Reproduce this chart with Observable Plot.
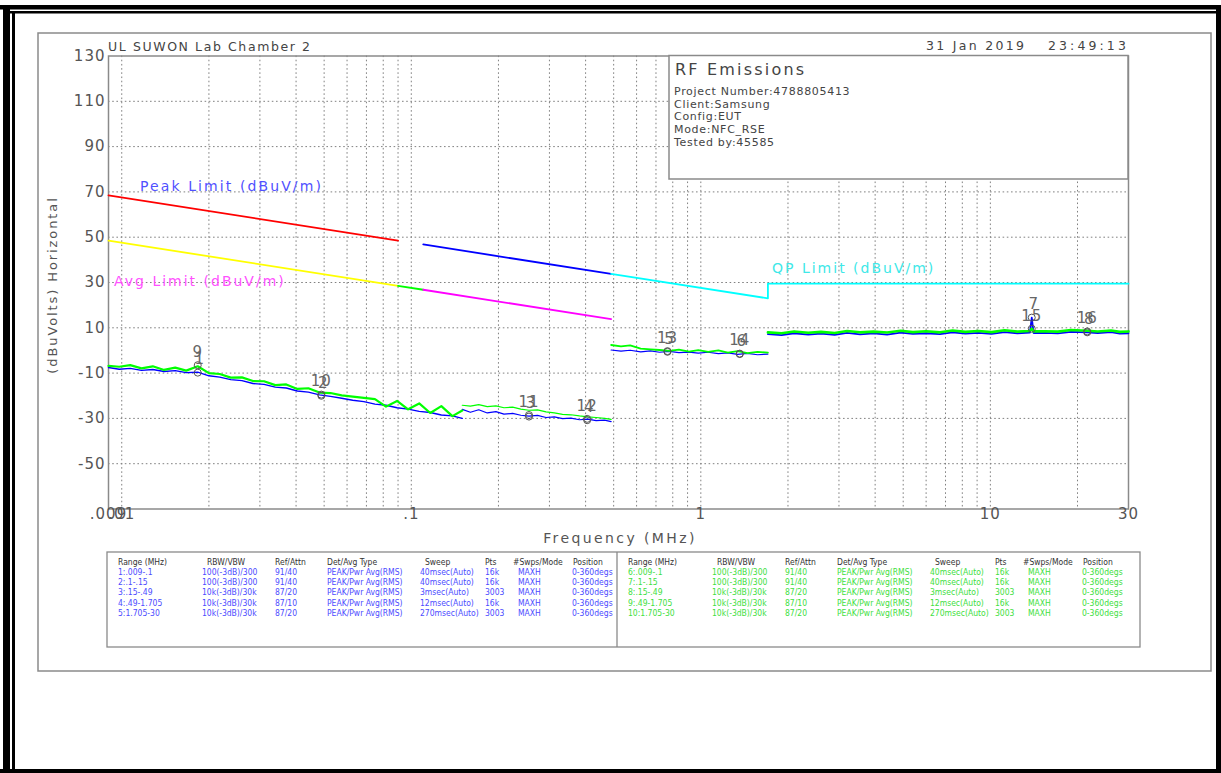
<!DOCTYPE html>
<html><head><meta charset="utf-8">
<script src="https://cdn.jsdelivr.net/npm/d3@7"></script>
<script src="https://cdn.jsdelivr.net/npm/@observablehq/plot@0.6"></script>
<style>
body{margin:0;background:#fff;}
#wrap{position:relative;width:1221px;height:773px;overflow:hidden;background:#fff;}
#wrap svg{position:absolute;left:0;top:0;}
</style></head><body><div id="wrap"></div>
<script>
// ---------- axis ticks / grid ----------
const yTicks = [130,110,90,70,50,30,10,-10,-30,-50];
const yGrid = [110,90,70,50,30,10,-10,-30,-50];
const xTickVals = [0.009,0.01,0.1,1,10,30];
const xTickText = [".009",".01",".1","1","10","30"];
const xGrid = [0.01,0.02,0.03,0.04,0.05,0.06,0.07,0.08,0.09,
  0.1,0.2,0.3,0.4,0.5,0.6,0.7,0.8,0.9,1,2,3,4,5,6,7,8,9,10,20];

// ---------- limit lines ----------
const limitSeg = ["peakA","peakA","avgA","avgA","avgB","avgB","avgC","avgC","peakB","peakB","qp","qp","qp","qp"];
const limitFreq = [0.009,0.09, 0.009,0.09, 0.09,0.11, 0.11,0.49, 0.11,0.49, 0.49,1.705,1.705,30];
const limitLevel = [68.5,48.5, 48.5,28.5, 28.5,26.8, 26.8,13.8, 46.8,33.8, 33.8,23.0,29.5,29.5];
const limitColor = {peakA:"#ff0000",avgA:"#ffff00",avgB:"#00ff00",avgC:"#ff00ff",peakB:"#0000ff",qp:"#00ffff"};

// ---------- measured traces (blue = ranges 1-5, green = ranges 6-10) ----------
const seg1Freq = [0.009,0.0098,0.0107,0.0117,0.0128,0.014,0.0153,0.0167,0.0183,0.02,0.0218,0.0238,0.026,0.0284,0.031,0.0339,0.037,0.0404,0.0441,0.0482,0.0526,0.0575,0.0628,0.0686,0.0749,0.0818,0.0893,0.0975,0.1065,0.1163,0.127,0.1387,0.15];
const seg1Blue = [-7.5,-8.3,-7.9,-8.8,-8.4,-9.3,-8.9,-9.8,-9.6,-11.2,-11.8,-12.9,-13.3,-14.6,-15.0,-16.2,-16.6,-17.9,-18.4,-19.6,-20.3,-21.1,-22.0,-22.6,-23.7,-24.2,-25.3,-25.9,-26.9,-27.4,-28.5,-28.9,-30.0];
const seg1Green = [-6.8,-7.2,-6.5,-7.9,-7.0,-8.6,-7.6,-8.9,-7.0,-10.0,-10.4,-12.0,-11.9,-13.5,-13.6,-15.3,-15.0,-17.0,-16.7,-18.6,-18.8,-19.8,-20.4,-20.9,-21.5,-24.8,-22.3,-26.0,-23.4,-27.6,-24.6,-29.0,-26.5];
const seg2Freq = [0.15,0.16,0.171,0.183,0.196,0.209,0.224,0.239,0.255,0.273,0.292,0.312,0.333,0.356,0.381,0.407,0.435,0.465,0.49];
const seg2Blue = [-26.0,-27.3,-26.2,-27.6,-27.0,-28.1,-27.8,-28.6,-29.0,-28.7,-29.6,-29.3,-30.1,-29.9,-30.6,-30.3,-31.0,-30.8,-31.4];
const seg2Green = [-24.2,-24.6,-23.9,-24.8,-24.5,-25.3,-25.0,-25.9,-26.4,-26.2,-27.1,-27.6,-28.2,-28.4,-28.9,-29.3,-29.6,-30.0,-30.4];
const seg3Freq = [0.49,0.53,0.57,0.62,0.67,0.72,0.78,0.84,0.91,0.98,1.06,1.15,1.24,1.34,1.45,1.57,1.705];
const seg3Blue = [0.2,-0.3,0.1,-0.6,-0.2,-0.8,-0.4,-1.0,-0.7,-1.2,-0.8,-1.4,-1.1,-1.7,-1.3,-1.9,-1.6];
const seg3Green = [2.4,1.8,2.2,0.8,0.5,0.2,-0.2,0.4,-0.5,0.1,-0.6,0.0,-1.0,-0.3,-1.2,-0.6,-1.0];
const seg4Freq = [1.705,1.9,2.1,2.35,2.6,2.9,3.2,3.55,3.95,4.4,4.9,5.4,6.0,6.7,7.4,8.2,9.1,10.1,11.2,12.4,13.7,13.9,14.1,15.4,17.1,19.0,21.6,23.5,26.1,28.0,30];
const seg4Blue = [7.2,6.8,7.6,7.0,7.4,6.9,7.8,7.1,7.5,7.0,7.9,7.3,7.6,7.2,8.0,7.4,7.8,7.3,8.1,7.6,7.9,14.5,7.7,7.8,7.5,8.2,8.0,7.7,8.1,7.4,7.6];
const seg4Green = [8.0,7.6,8.4,7.8,8.2,7.7,8.6,8.0,8.3,7.9,8.7,8.1,8.5,8.0,8.8,8.2,8.6,8.1,8.9,8.3,8.6,9.6,8.4,8.5,8.3,9.0,8.7,8.4,8.8,8.2,8.4];

// ---------- markers ----------
const markerFreq = [0.0183,0.0489,0.255,0.405,0.767,1.363,13.9,21.6];
const markerBlueLevel = [-9.8,-20.0,-29.2,-30.8,-0.6,-1.6,14.5,8.0];
const markerGreenLevel = [-6.5,-19.5,-28.5,-30.2,-0.3,-1.4,9.6,8.4];
const markerBlueLabel = ["1","2","3","4","5","6","7","8"];
const markerGreenLabel = ["9","10","11","12","13","14","15","16"];

// ---------- texts ----------
const titleLeft = "UL SUWON Lab Chamber 2";
const dateText = "31 Jan 2019";
const timeText = "23:49:13";
const infoTitle = "RF Emissions";
const infoLines = ["Project Number:4788805413","Client:Samsung","Config:EUT","Mode:NFC_RSE","Tested by:45585"];
const yLabel = "(dBuVolts) Horizontal";
const xLabel = "Frequency (MHz)";
const limitLabels = ["Peak Limit (dBuV/m)","Avg Limit (dBuV/m)","QP Limit (dBuV/m)"];

// ---------- settings table ----------
const tableHeader = ["Range (MHz)","RBW/VBW","Ref/Attn","Det/Avg Type","Sweep","Pts","#Swps/Mode","Position"];
const rangeBlue = ["1:.009-.1","2:.1-.15","3:.15-.49","4:.49-1.705","5:1.705-30"];
const rangeGreen = ["6:.009-.1","7:.1-.15","8:.15-.49","9:.49-1.705","10:1.705-30"];
const rbwVbw = ["100(-3dB)/300","100(-3dB)/300","10k(-3dB)/30k","10k(-3dB)/30k","10k(-3dB)/30k"];
const refAttn = ["91/40","91/40","87/20","87/10","87/20"];
const detType = ["PEAK/Pwr Avg(RMS)","PEAK/Pwr Avg(RMS)","PEAK/Pwr Avg(RMS)","PEAK/Pwr Avg(RMS)","PEAK/Pwr Avg(RMS)"];
const sweep = ["40msec(Auto)","40msec(Auto)","3msec(Auto)","12msec(Auto)","270msec(Auto)"];
const pts = ["16k","16k","3003","16k","3003"];
const swpMode = ["MAXH","MAXH","MAXH","MAXH","MAXH"];
const position = ["0-360degs","0-360degs","0-360degs","0-360degs","0-360degs"];

// ---------- build tables ----------
const limits = limitFreq.map((f,i)=>({f, v:limitLevel[i], seg:limitSeg[i], c:limitColor[limitSeg[i]]}));
function segRows(freq, vals, name){ return freq.map((f,i)=>({f, v:vals[i], seg:name})); }
const blue = {s1:segRows(seg1Freq,seg1Blue,"s1"), s2:segRows(seg2Freq,seg2Blue,"s2"), s3:segRows(seg3Freq,seg3Blue,"s3"), s4:segRows(seg4Freq,seg4Blue,"s4")};
const green = {s1:segRows(seg1Freq,seg1Green,"s1"), s2:segRows(seg2Freq,seg2Green,"s2"), s3:segRows(seg3Freq,seg3Green,"s3"), s4:segRows(seg4Freq,seg4Green,"s4")};
const traceWidth = {s1:2.2, s2:1.2, s3:1.8, s4:2.6};
const blueMarkers = markerFreq.map((f,i)=>({f, v:markerBlueLevel[i], t:markerBlueLabel[i]}));
const greenMarkers = markerFreq.map((f,i)=>({f, v:markerGreenLevel[i], t:markerGreenLabel[i]}));
const markers = [...blueMarkers, ...greenMarkers];

const FONT = "DejaVu Sans, Liberation Sans, sans-serif";
const GRID = {stroke:"#808080", strokeDasharray:"1.6,2.6", strokeWidth:1};

const traceMarks = [];
["s1","s2","s3","s4"].forEach(s=>{
  traceMarks.push(Plot.line(blue[s], {x:"f", y:"v", stroke:"#0000ff", strokeWidth:Math.max(1.2, traceWidth[s]-0.8)}));
});
["s1","s2","s3","s4"].forEach(s=>{
  traceMarks.push(Plot.line(green[s], {x:"f", y:"v", stroke:"#00ff00", strokeWidth:traceWidth[s]}));
});

const chart = Plot.plot({
  width:1221, height:773,
  marginLeft:108, marginRight:93, marginTop:55.5, marginBottom:264.5,
  x:{type:"log", domain:[0.009,30], axis:null},
  y:{domain:[-70,130], axis:null},
  color:{type:"identity"},
  style:{background:"transparent", fontFamily:FONT, overflow:"visible"},
  marks:[
    Plot.ruleX(xGrid, {x:d=>d, ...GRID}),
    Plot.ruleY(yGrid, {y:d=>d, ...GRID}),
    Plot.frame({stroke:"#8a8a8a", strokeWidth:1.5}),
    Plot.line(limits, {x:"f", y:"v", z:"seg", stroke:"c", strokeWidth:1.8}),
    ...traceMarks,
    Plot.dot(markers, {x:"f", y:"v", r:3.5, stroke:"#555", strokeWidth:1, fill:"none"}),
    Plot.text(greenMarkers, {x:"f", y:"v", text:"t", dy:-13, fill:"#666", fontSize:15}),
    Plot.text(blueMarkers, {x:"f", y:"v", text:"t", dy:-13, dx:2, fill:"#666", fontSize:15}),
    Plot.text(yTicks, {y:d=>d, text:d=>String(d), frameAnchor:"left", textAnchor:"end", dx:-3, fill:"#555", fontSize:15}),
    Plot.text(xTickVals, {x:d=>d, text:(d,i)=>xTickText[i], frameAnchor:"bottom", dy:10, fill:"#555", fontSize:15})
  ]
});
d3.select(chart).selectAll("text").style("letter-spacing","1px");
document.getElementById("wrap").appendChild(chart);

// ---------- overlay: page frame, header, info box, table ----------
const ov = d3.select("#wrap").append("svg").attr("width",1221).attr("height",773)
  .style("pointer-events","none").style("font-family",FONT);

// outer black border
ov.append("rect").attr("x",0).attr("y",5).attr("width",1221).attr("height",4.5).attr("fill","#000");
ov.append("rect").attr("x",10).attr("y",11).attr("width",1211).attr("height",2.5).attr("fill","#000");
ov.append("rect").attr("x",3).attr("y",5).attr("width",7).attr("height",768).attr("fill","#000");
ov.append("rect").attr("x",12).attr("y",11).attr("width",3).attr("height",762).attr("fill","#000");
ov.append("rect").attr("x",0).attr("y",769).attr("width",1221).attr("height",4).attr("fill","#000");
ov.append("rect").attr("x",1216).attr("y",5).attr("width",5).attr("height",768).attr("fill","#000");

// gray panel
ov.append("rect").attr("x",38).attr("y",33).attr("width",1173).attr("height",638)
  .attr("fill","none").attr("stroke","#8a8a8a").attr("stroke-width",1.5);

// header
ov.append("text").attr("x",108).attr("y",50.5).attr("font-size",12.5).attr("letter-spacing","1.6px").attr("fill","#444").text(titleLeft);
ov.append("text").attr("x",926).attr("y",50).attr("font-size",12.5).attr("letter-spacing","2.3px").attr("fill","#444").text(dateText);
ov.append("text").attr("x",1048).attr("y",50).attr("font-size",12.5).attr("letter-spacing","3.1px").attr("fill","#444").text(timeText);

// axis titles
ov.append("text").attr("transform","translate(57,285) rotate(-90)").attr("text-anchor","middle")
  .attr("font-size",13).attr("letter-spacing","1.9px").attr("fill","#555").text(yLabel);
ov.append("text").attr("x",620).attr("y",543).attr("text-anchor","middle")
  .attr("font-size",14).attr("letter-spacing","2.4px").attr("fill","#555").text(xLabel);

// limit labels
ov.append("text").attr("x",140).attr("y",191).attr("font-size",14).attr("letter-spacing","2.1px").attr("fill","#5050ff").text(limitLabels[0]);
ov.append("text").attr("x",114).attr("y",286).attr("font-size",14).attr("letter-spacing","2.0px").attr("fill","#ff50ff").text(limitLabels[1]);
ov.append("text").attr("x",772).attr("y",273).attr("font-size",14).attr("letter-spacing","2.0px").attr("fill","#40e8e8").text(limitLabels[2]);

// info box
ov.append("rect").attr("x",669).attr("y",55.5).attr("width",459).attr("height",123.5)
  .attr("fill","#fff").attr("stroke","#8a8a8a").attr("stroke-width",1.5);
ov.append("text").attr("x",675).attr("y",75).attr("font-size",16).attr("letter-spacing","2.2px").attr("fill","#444").text(infoTitle);
infoLines.forEach((t,i)=>{
  ov.append("text").attr("x",674).attr("y",95+i*12.7).attr("font-size",11).attr("letter-spacing","0.7px").attr("fill","#444").text(t);
});

// settings table
ov.append("rect").attr("x",107).attr("y",552).attr("width",1033).attr("height",95)
  .attr("fill","none").attr("stroke","#8a8a8a").attr("stroke-width",1.3);
ov.append("line").attr("x1",617).attr("x2",617).attr("y1",552).attr("y2",647)
  .attr("stroke","#8a8a8a").attr("stroke-width",1.3);
const headX = [118,207,275,327,425,485,513,573];
const dataX = [118,202,275,327,420,485,518,572];
function drawTable(offset, ranges, color){
  const g = ov.append("g").attr("font-size",8.5).attr("font-family","DejaVu Sans Condensed, DejaVu Sans, sans-serif")
    .style("font-stretch","condensed");
  tableHeader.forEach((h,j)=>g.append("text").attr("x",headX[j]+offset).attr("y",564.5).attr("fill","#333").text(h));
  ranges.forEach((r,i)=>{
    const row = [r, rbwVbw[i], refAttn[i], detType[i], sweep[i], pts[i], swpMode[i], position[i]];
    row.forEach((c,j)=>g.append("text").attr("x",dataX[j]+offset).attr("y",574.8+i*10.3).attr("fill",color).text(c));
  });
}
drawTable(0, rangeBlue, "#4b4bff");
drawTable(510, rangeGreen, "#3ee03e");
</script>
</body></html>
